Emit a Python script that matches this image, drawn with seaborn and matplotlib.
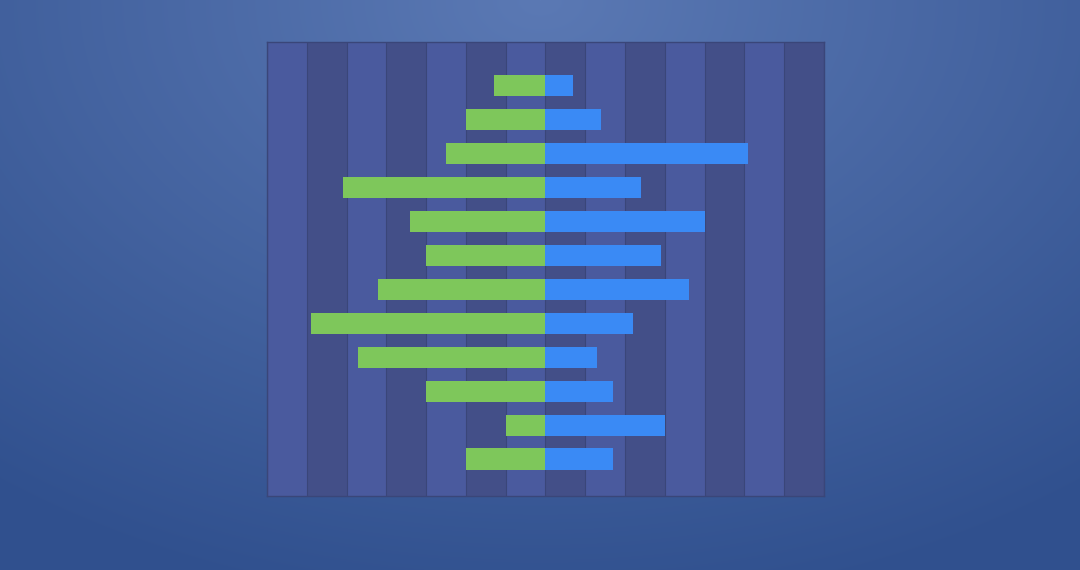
import numpy as np
import pandas as pd
import seaborn as sns
import matplotlib.pyplot as plt

# values (left side green, right side blue)
rows = [str(i) for i in range(1, 13)]
left_vals = [13, 20, 25, 51, 34, 30, 42, 59, 47, 30, 10, 20]
right_vals = [7, 14, 51, 24, 40, 29, 36, 22, 13, 17, 30, 17]
x_ticks = list(range(-70, 71, 10))

green = "#7ec75b"
blue = "#3a8af5"
stripe_light = "#4a5a9e"
stripe_dark = "#434f88"

sns.set_theme(style="white")
fig = plt.figure(figsize=(10.8, 5.7), dpi=100)

# radial-ish background gradient
bg = fig.add_axes([0, 0, 1, 1], zorder=-10)
yy, xx = np.mgrid[0:570, 0:1080]
d = np.sqrt(((xx - 540) / 900.0) ** 2 + ((yy - 0) / 620.0) ** 2)
d = np.clip(d, 0, 1)
c0 = np.array([0x5b, 0x79, 0xb4]) / 255
c1 = np.array([0x30, 0x50, 0x8e]) / 255
img = c0[None, None, :] * (1 - d[..., None]) + c1[None, None, :] * d[..., None]
bg.imshow(img, aspect="auto", extent=[0, 1, 0, 1])
bg.set_axis_off()

ax = fig.add_axes([0.2472, 0.1298, 0.5157, 0.7965])
ax.set_facecolor(stripe_dark)

df = pd.DataFrame({"row": rows, "left": [-v for v in left_vals], "right": right_vals})

for i in range(len(x_ticks) - 1):
    col = stripe_light if i % 2 == 0 else stripe_dark
    ax.axvspan(x_ticks[i], x_ticks[i + 1], color=col, zorder=0, lw=0)
for t in x_ticks:
    ax.axvline(t, color="#3a4679", lw=0.8, zorder=1)

sns.barplot(data=df, x="left", y="row", color=green, orient="h", width=0.62,
            saturation=1, linewidth=0, edgecolor="none", ax=ax, zorder=3)
sns.barplot(data=df, x="right", y="row", color=blue, orient="h", width=0.62,
            saturation=1, linewidth=0, edgecolor="none", ax=ax, zorder=3)

ax.set_xlim(-70, 70)
ax.set_ylim(12.09, -1.28)
ax.set_xticks([])
ax.set_yticks([])
ax.set_xlabel("")
ax.set_ylabel("")
for s in ax.spines.values():
    s.set_color("#3a4679")
    s.set_linewidth(1)

fig.savefig("out.png", dpi=100)
